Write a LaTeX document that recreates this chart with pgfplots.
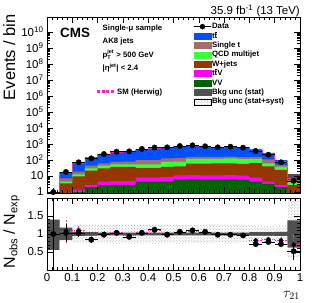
\documentclass[border=0pt]{standalone}
\usepackage{pgfplots}
\pgfplotsset{compat=1.18}
\usepackage{pgfplotstable}
\usetikzlibrary{patterns}
\usepackage{amsmath}
\usepackage{fontspec}
\setmainfont{Liberation Sans}

\definecolor{cTT}{RGB}{0,80,255}
\definecolor{cST}{RGB}{160,110,110}
\definecolor{cQCD}{RGB}{60,255,60}
\definecolor{cW}{RGB}{150,55,0}
\definecolor{cTTV}{RGB}{255,0,255}
\definecolor{cVV}{RGB}{0,100,0}
\definecolor{cStat}{RGB}{80,80,80}
\definecolor{cHW}{RGB}{255,40,170}

\newcommand{\tbar}{$\overline{\mbox{t}}$}

% cumulative stack tops (bin left edges; last row repeats)
\pgfplotstableread{
x    c1   c2   c3   c4   c5   c6    hw
0.00 0.3  0.35 0.6  0.7  0.75 0.8   0.8
0.05 0.5  0.7  3.5  4.4  7.2  17.5  17
0.10 1.0  1.4  9.6  12.7 18.6 70    66
0.15 2.0  2.7  21.5 30   44   151   150
0.20 2.7  4.4  30   44   62   242   238
0.25 2.8  4.8  38   54   78   320   315
0.30 2.8  4.8  38   54   80   380   370
0.35 4.5  8    32   54   100  476   465
0.40 4.5  8    32   54   100  536   545
0.45 4.5  8.5  38   78   125  633   620
0.50 6    11   40   80   130  708   715
0.55 6.2  11.5 60   120  160  755   770
0.60 6    11   60   120  160  679   685
0.65 6    11   62   120  160  633   620
0.70 6.2  11.5 62   125  165  694   694
0.75 5.8  10.5 58   115  150  615   620
0.80 4.5  8    65   120  160  507   445
0.85 3.2  4.4  40   62   110  276   255
0.90 2.0  2.7  24   38   49   100   88
0.95 0.6  0.9  2.7  4.4  5.6  9.6   7.2
1.00 0.6  0.9  2.7  4.4  5.6  9.6   7.2
}\stack

\pgfplotstableread{
x     y    ex    ey
0.025 1    0.025 0.8
0.075 18   0.025 4.2
0.125 72   0.025 8.5
0.175 127  0.025 11
0.225 237  0.025 15
0.275 330  0.025 18
0.325 350  0.025 19
0.375 490  0.025 22
0.425 600  0.025 25
0.475 620  0.025 25
0.525 750  0.025 27
0.575 830  0.025 29
0.625 720  0.025 27
0.675 620  0.025 25
0.725 680  0.025 26
0.775 590  0.025 24
0.825 365  0.025 19
0.875 215  0.025 15
0.925 72   0.025 8.5
0.975 5    0.025 2.2
}\data

\pgfplotstableread{
x     r    ex    er   h    eh
0.025 1.00 0.025 1.10 1.00 1.20
0.075 1.03 0.025 0.25 1.08 0.30
0.125 1.03 0.025 0.12 1.10 0.13
0.175 0.84 0.025 0.08 0.86 0.09
0.225 0.98 0.025 0.06 1.00 0.07
0.275 1.03 0.025 0.06 1.05 0.06
0.325 0.92 0.025 0.05 0.95 0.06
0.375 1.03 0.025 0.05 1.05 0.05
0.425 1.12 0.025 0.05 1.10 0.05
0.475 0.98 0.025 0.05 1.00 0.05
0.525 1.06 0.025 0.04 1.05 0.05
0.575 1.10 0.025 0.04 1.08 0.05
0.625 1.06 0.025 0.04 1.05 0.05
0.675 0.98 0.025 0.04 0.98 0.05
0.725 0.98 0.025 0.04 0.97 0.05
0.775 0.96 0.025 0.05 0.95 0.05
0.825 0.72 0.025 0.05 0.82 0.06
0.875 0.78 0.025 0.06 0.85 0.07
0.925 0.72 0.025 0.09 0.82 0.10
0.975 0.52 0.025 0.25 0.70 0.30
}\ratio

\pgfplotstableread{
x    sl   sh   yl   yh
0.00 0.55 1.40 0.55 1.40
0.05 0.83 1.18 0.80 1.20
0.10 0.94 1.06 0.74 1.26
0.15 0.95 1.05 0.74 1.26
0.20 0.96 1.04 0.74 1.26
0.25 0.96 1.04 0.74 1.26
0.30 0.96 1.04 0.74 1.26
0.35 0.96 1.04 0.74 1.26
0.40 0.96 1.04 0.74 1.26
0.45 0.96 1.04 0.74 1.26
0.50 0.96 1.04 0.74 1.26
0.55 0.96 1.04 0.74 1.26
0.60 0.96 1.04 0.74 1.26
0.65 0.96 1.04 0.74 1.26
0.70 0.96 1.04 0.74 1.26
0.75 0.96 1.04 0.74 1.26
0.80 0.95 1.05 0.77 1.23
0.85 0.95 1.05 0.77 1.23
0.90 0.94 1.06 0.77 1.23
0.95 0.62 1.38 0.35 2.10
1.00 0.62 1.38 0.35 2.10
}\bands

\pgfplotsset{
  cmsaxis/.style={
    scale only axis, width=253bp, anchor=north west,
    xmin=0, xmax=1,
    xtick={0,0.1,0.2,0.3,0.4,0.5,0.6,0.7,0.8,0.9,1},
    minor x tick num=4,
    tick align=inside, xtick pos=both, ytick pos=both,
    major tick length=6bp, minor tick length=3bp,
    tick style={black, line width=0.5pt},
    tick label style={font=\fontsize{11.5}{12}\selectfont},
    axis on top, axis line style={line width=0.6pt},
  },
}

\begin{document}
\begin{tikzpicture}
\useasboundingbox (0,0) rectangle (316bp,-303bp);

\begin{axis}[cmsaxis, at={(47bp,-17bp)}, height=176bp,
  ymode=log, ymin=0.87, ymax=8.7e10,
  ytick={1,10,100,1e3,1e4,1e5,1e6,1e7,1e8,1e9,1e10},
  yticklabels={1,10,10\textsuperscript{2},10\textsuperscript{3},10\textsuperscript{4},10\textsuperscript{5},10\textsuperscript{6},10\textsuperscript{7},10\textsuperscript{8},10\textsuperscript{9},10\textsuperscript{10}},
  xticklabels={},
  legend cell align=left,
  legend style={draw=none, fill=none, at={(0.579,0.973)}, anchor=north west,
    inner sep=0pt, font=\bfseries\fontsize{7.8}{8}\selectfont,
    nodes={inner sep=0.8bp, text height=6.0bp, text depth=1.8bp}, row sep=0pt},
]
\addlegendimage{legend image code/.code={\draw[black, line width=0.6pt] (0bp,0bp)--(17bp,0bp); \fill[black] (8.5bp,0bp) circle (2.5bp);}}
\addlegendentry{Data}
\addlegendimage{legend image code/.code={\fill[cTT] (0bp,-3bp) rectangle (17bp,3bp);}}
\addlegendentry{t\tbar}
\addlegendimage{legend image code/.code={\fill[cST] (0bp,-3bp) rectangle (17bp,3bp);}}
\addlegendentry{Single t}
\addlegendimage{legend image code/.code={\fill[cQCD] (0bp,-3bp) rectangle (17bp,3bp);}}
\addlegendentry{QCD multijet}
\addlegendimage{legend image code/.code={\fill[cW] (0bp,-3bp) rectangle (17bp,3bp);}}
\addlegendentry{W+jets}
\addlegendimage{legend image code/.code={\fill[cTTV] (0bp,-3bp) rectangle (17bp,3bp);}}
\addlegendentry{t\tbar V}
\addlegendimage{legend image code/.code={\fill[cVV] (0bp,-3bp) rectangle (17bp,3bp);}}
\addlegendentry{VV}
\addlegendimage{legend image code/.code={\fill[cStat] (0bp,-3bp) rectangle (17bp,3bp);}}
\addlegendentry{Bkg unc (stat)}
\addlegendimage{legend image code/.code={\fill[pattern=crosshatch dots, pattern color=gray!70] (0bp,-3bp) rectangle (17bp,3bp);}}
\addlegendentry{Bkg unc (stat+syst)}

\addplot[const plot, fill=cTT, draw=none, forget plot] table[x=x,y=c6] {\stack} -- (axis cs:1,0.5) -- (axis cs:0,0.5) -- cycle;
\addplot[const plot, fill=cST, draw=none, forget plot] table[x=x,y=c5] {\stack} -- (axis cs:1,0.5) -- (axis cs:0,0.5) -- cycle;
\addplot[const plot, fill=cQCD, draw=none, forget plot] table[x=x,y=c4] {\stack} -- (axis cs:1,0.5) -- (axis cs:0,0.5) -- cycle;
\addplot[const plot, fill=cW, draw=none, forget plot] table[x=x,y=c3] {\stack} -- (axis cs:1,0.5) -- (axis cs:0,0.5) -- cycle;
\addplot[const plot, fill=cTTV, draw=none, forget plot] table[x=x,y=c2] {\stack} -- (axis cs:1,0.5) -- (axis cs:0,0.5) -- cycle;
\addplot[const plot, fill=cVV, draw=none, forget plot] table[x=x,y=c1] {\stack} -- (axis cs:1,0.5) -- (axis cs:0,0.5) -- cycle;

\addplot[fill=cStat, draw=none, forget plot] coordinates {(0.95,6.5) (0.95,14) (1,14) (1,6.5)} -- cycle;

\addplot[const plot, cHW, densely dash dot, line width=0.8pt, forget plot] table[x=x,y=hw] {\stack};

\addplot[only marks, mark=*, mark size=2.7bp, black, forget plot,
  error bars/.cd, x dir=both, x explicit, y dir=both, y explicit,
  error bar style={line width=0.6pt}, error mark=none]
  table[x=x, y=y, x error=ex, y error=ey] {\data};
\end{axis}

\begin{axis}[cmsaxis, at={(47bp,-198bp)}, height=72bp,
  ymin=0, ymax=2, ytick={0.5,1,1.5}, yticklabels={0.5,1,1.5},
  minor y tick num=4,
  xticklabels={0,0.1,0.2,0.3,0.4,0.5,0.6,0.7,0.8,0.9,1},
]
\addplot[const plot, draw=none, pattern=crosshatch dots, pattern color=gray!70] table[x=x,y=yh] {\bands} \closedcycle;
\addplot[const plot, draw=none, fill=cStat] table[x=x,y=sh] {\bands} \closedcycle;
\addplot[const plot, draw=none, fill=white] table[x=x,y=sl] {\bands} \closedcycle;
\addplot[const plot, draw=none, pattern=crosshatch dots, pattern color=gray!70] table[x=x,y=sl] {\bands} \closedcycle;
\addplot[const plot, draw=none, fill=white] table[x=x,y=yl] {\bands} \closedcycle;

\addplot[only marks, mark=none, draw=none,
  error bars/.cd, x dir=both, x explicit, y dir=both, y explicit,
  error bar style={cHW, densely dash dot, line width=0.8pt}, error mark=none]
  table[x=x, y=h, x error=ex, y error=eh] {\ratio};

\addplot[only marks, mark=*, mark size=2.7bp, black,
  error bars/.cd, x dir=both, x explicit, y dir=both, y explicit,
  error bar style={line width=0.6pt}, error mark=none]
  table[x=x, y=r, x error=ex, y error=er] {\ratio};
\end{axis}

% labels
\node[rotate=90, anchor=north east, inner sep=0pt, font=\fontsize{16.5}{17}\selectfont] at (3bp,-14bp) {Events / bin};
\node[rotate=90, anchor=north east, inner sep=0pt, font=\fontsize{16}{17}\selectfont] at (3bp,-195bp) {N\textsubscript{obs} / N\textsubscript{exp}};
\node[anchor=base east, inner sep=0pt, font=\fontsize{14}{15}\selectfont] at (300bp,-297bp) {$\tau_{21}$};
\node[anchor=base east, inner sep=0pt, font=\fontsize{11.5}{12}\selectfont] at (300bp,-14.5bp) {35.9 fb\textsuperscript{-1} (13 TeV)};

\node[anchor=base west, inner sep=0pt, font=\bfseries\fontsize{13.5}{15}\selectfont] at (60bp,-37.5bp) {CMS};
\begin{scope}[every node/.style={anchor=base west, inner sep=0pt, font=\bfseries\fontsize{7.8}{8}\selectfont}]
\node at (102.5bp,-30bp) {Single-μ sample};
\node at (102.5bp,-43.5bp) {AK8 jets};
\node at (102.5bp,-57bp) {p$^{\text{jet}}_{\text{T}}$ > 500 GeV};
\node at (102.5bp,-70.5bp) {|η\textsuperscript{jet}| < 2.4};
\node at (117bp,-94bp) {SM (Herwig)};
\end{scope}
\fill[cHW] (97bp,-92.6bp) rectangle (100bp,-90.4bp);
\fill[cHW] (101.5bp,-92.6bp) rectangle (104.5bp,-90.4bp);
\fill[cHW] (106bp,-92.6bp) rectangle (109bp,-90.4bp);
\fill[cHW] (110.5bp,-92.6bp) rectangle (113.5bp,-90.4bp);
\end{tikzpicture}
\end{document}
